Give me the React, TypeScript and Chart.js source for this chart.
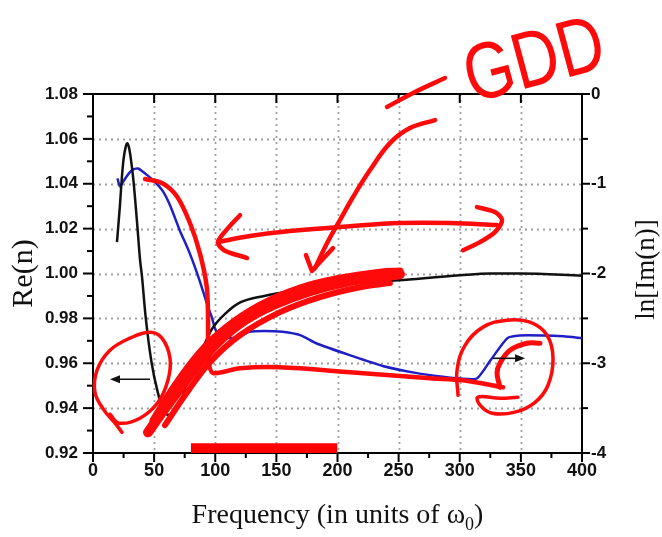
import { useEffect, useRef } from "react";
import { Chart, registerables } from "chart.js";

Chart.register(...registerables);

// Re(n) versus frequency (left axis)
const reFreq = [19.6, 22, 23.5, 25, 27, 28, 29.5, 31, 33, 36, 38.5, 40, 43, 48, 53, 57, 61, 65, 68, 72, 76, 80, 90, 97, 110, 120, 140, 175, 200, 250, 300, 325, 350, 400];
const reValues = [1.014, 1.03, 1.042, 1.051, 1.057, 1.058, 1.056, 1.051, 1.042, 1.023, 1.006, 0.999, 0.981, 0.96, 0.947, 0.94, 0.937, 0.937, 0.939, 0.943, 0.95, 0.956, 0.967, 0.975, 0.983, 0.987, 0.99, 0.993, 0.995, 0.997, 0.9992, 1.0, 1.0, 0.999];

// ln[Im(n)] versus frequency (right axis)
const imFreq = [20, 22, 25, 29, 33, 37, 43, 50, 57, 63, 71, 79, 87, 94, 97, 100, 104, 110, 118, 128, 140, 155, 170, 183, 210, 237, 265, 286, 300, 314, 325, 339, 349, 368, 385, 400];
const lnImValues = [-0.94, -1.03, -0.97, -0.89, -0.84, -0.83, -0.89, -0.97, -1.08, -1.24, -1.52, -1.77, -2.07, -2.37, -2.48, -2.62, -2.71, -2.72, -2.71, -2.65, -2.64, -2.65, -2.69, -2.78, -2.91, -3.03, -3.11, -3.15, -3.17, -3.17, -2.97, -2.72, -2.69, -2.69, -2.7, -2.72];

// Axis ranges and ticks
const xRange = [0, 400];
const xMajorStep = 50;
const xMinorStep = 25;
const reRange = [0.92, 1.08];
const reMajorStep = 0.02;
const reMinorStep = 0.01;
const lnImRange = [-4, 0];
const lnImMajorStep = 1;
const lnImMinorStep = 0.5;

// Highlighted frequency band on the axis
const bandFreq = [80, 200];
const bandTop = [0.9244, 0.9244];

// Black arrows telling which curve belongs to which axis
const leftArrowX = [46.6, 13.9];
const leftArrowY = [0.9529, 0.9529];
const rightArrowX = [327, 353.4];
const rightArrowY = [0.9622, 0.9622];

// Red ink: stroke following the Im curve, then along the bottom
const inkSlopeX = [42.5, 56.4, 68.7, 79.3, 87.4, 93.1, 94.1, 94.1, 94.6, 98.2, 120.2, 153.0, 210.2, 275.7, 302.7, 335.4];
const inkSlopeY = [1.0421, 1.0403, 1.0343, 1.0225, 1.0091, 0.9939, 0.9792, 0.968, 0.9605, 0.9556, 0.9578, 0.9582, 0.956, 0.9533, 0.9524, 0.9493];
// Red ink: hook inside the right circle
const inkHookX = [332.9, 330.5, 332.9, 341.1, 355.0, 365.6];
const inkHookY = [0.9493, 0.9556, 0.96, 0.9658, 0.9689, 0.9689];
// Red ink: right circle
const inkRightRingX = [298.6, 297.8, 304.3, 319.0, 338.7, 357.5, 371.4, 376.3, 372.2, 361.6, 345.2, 326.4, 316.6, 314.9, 332.9, 347.6];
const inkRightRingY = [0.9457, 0.9569, 0.968, 0.9761, 0.9792, 0.9783, 0.9725, 0.9622, 0.9502, 0.9426, 0.9382, 0.9377, 0.9413, 0.9449, 0.9444, 0.9449];
// Red ink: left circle
const inkLeftRingX = [13.9, 21.3, 38.4, 53.2, 61.3, 63.0, 56.4, 46.6, 30.3, 13.9, 3.3, 1.6, 9.0, 18.8, 23.7];
const inkLeftRingY = [0.9373, 0.9333, 0.9355, 0.9426, 0.9524, 0.9622, 0.9712, 0.9738, 0.9712, 0.9658, 0.9569, 0.9471, 0.9391, 0.9328, 0.9292];
// Red ink: thick marking over the Re curve
const inkBandAX = [45.0, 54.8, 71.2, 87.5, 103.9, 124.3, 148.9, 177.5, 210.2, 238.9, 251.1];
const inkBandAY = [0.9292, 0.9368, 0.9489, 0.9605, 0.9703, 0.9792, 0.9863, 0.9921, 0.9966, 0.9988, 0.9997];
const inkBandBX = [49.1, 67.1, 87.5, 108.0, 136.6, 169.3, 202.0, 234.8, 251.1];
const inkBandBY = [0.9346, 0.9502, 0.9649, 0.9756, 0.9859, 0.9935, 0.9979, 1.0006, 1.0011];
const inkBandCX = [58.9, 75.3, 95.7, 120.2, 153.0, 185.7, 218.4, 242.9];
const inkBandCY = [0.9324, 0.9457, 0.9605, 0.9725, 0.9828, 0.9895, 0.9939, 0.9957];
// Red ink: double-headed arrow spanning the band
const inkSpanX = [102.2, 128.4, 161.1, 210.2, 251.1, 292.0, 330.5];
const inkSpanY = [1.014, 1.0167, 1.0189, 1.0211, 1.0225, 1.0225, 1.0216];
const inkSpanLeftHeadX = [120.2, 110.4, 102.2, 107.2, 126.0];
const inkSpanLeftHeadY = [1.026, 1.0202, 1.014, 1.0104, 1.0069];
const inkSpanRightHeadX = [314.1, 328.8, 334.6, 328.8, 316.6, 302.7];
const inkSpanRightHeadY = [1.0296, 1.0274, 1.0238, 1.0184, 1.014, 1.0104];
// Red ink: arrow from the note down to the curve
const inkPointerX = [279.8, 259.3, 242.9, 226.6, 212.7, 202.0, 191.4, 181.6];
const inkPointerY = [1.0684, 1.0648, 1.0581, 1.0461, 1.0341, 1.0238, 1.0135, 1.0024];
const inkPointerHeadX = [174.2, 179.1, 185.7, 196.3];
const inkPointerHeadY = [1.0082, 1.0011, 1.0051, 1.0113];
// Red ink: dash before the note
const inkDashX = [240.5, 263.4, 287.9];
const inkDashY = [1.0742, 1.0809, 1.0871];

// Hand-written note
const noteText = "GDD";
const noteAnchor = [310, 1.076];

const xTitleMain = "Frequency (in units of \u03c9";
const xTitleSub = "0";
const xTitleEnd = ")";
const leftTitle = "Re(n)";
const rightTitle = "ln[Im(n)]";

const INK = "#ff0a0a";
const SANS = "'Liberation Sans', Arial, sans-serif";
const SERIF = "'Liberation Serif', 'Times New Roman', serif";

const pts = (xs: number[], ys: number[]) => xs.map((x, i) => ({ x, y: ys[i] }));

const range = (a: number, b: number, step: number) => {
  const out: number[] = [];
  for (let v = a; v <= b + step * 1e-6; v += step) out.push(Math.round(v * 1e6) / 1e6);
  return out;
};

const framePlugin = {
  id: "frame",
  beforeDatasetsDraw(chart: any) {
    const { ctx, chartArea: a, scales } = chart;
    const x = scales.x;
    const y = scales.y;
    const y2 = scales.y2;
    ctx.save();
    // dotted grid
    ctx.strokeStyle = "#a0a0a0";
    ctx.lineWidth = 1.8;
    ctx.setLineDash([2, 4]);
    range(xRange[0] + xMajorStep, xRange[1] - xMajorStep, xMajorStep).forEach((v) => {
      const px = Math.round(x.getPixelForValue(v)) + 0.5;
      ctx.beginPath();
      ctx.moveTo(px, a.top);
      ctx.lineTo(px, a.bottom);
      ctx.stroke();
    });
    range(reRange[0] + reMajorStep, reRange[1] - reMajorStep, reMajorStep).forEach((v) => {
      const py = Math.round(y.getPixelForValue(v)) + 0.5;
      ctx.beginPath();
      ctx.moveTo(a.left, py);
      ctx.lineTo(a.right, py);
      ctx.stroke();
    });
    ctx.setLineDash([]);
    // frame
    ctx.strokeStyle = "#000";
    ctx.lineWidth = 2;
    ctx.strokeRect(a.left, a.top, a.right - a.left, a.bottom - a.top);
    // ticks
    const tick = (x1: number, y1: number, x2: number, y2p: number) => {
      ctx.beginPath();
      ctx.moveTo(x1, y1);
      ctx.lineTo(x2, y2p);
      ctx.stroke();
    };
    ctx.lineWidth = 2;
    range(xRange[0], xRange[1], xMinorStep).forEach((v) => {
      const px = x.getPixelForValue(v);
      const major = Math.abs(v / xMajorStep - Math.round(v / xMajorStep)) < 1e-6;
      tick(px, a.bottom, px, a.bottom + (major ? 9 : 5));
      if (major && v > xRange[0] && v < xRange[1]) tick(px, a.top, px, a.top + 9);
    });
    range(reRange[0], reRange[1], reMinorStep).forEach((v) => {
      const py = y.getPixelForValue(v);
      const major = Math.abs(v / reMajorStep - Math.round(v / reMajorStep)) < 1e-6;
      tick(a.left, py, a.left - (major ? 10 : 6), py);
    });
    range(lnImRange[0], lnImRange[1], lnImMinorStep).forEach((v) => {
      const py = y2.getPixelForValue(v);
      const major = Math.abs(v / lnImMajorStep - Math.round(v / lnImMajorStep)) < 1e-6;
      tick(a.right, py, a.right + (major ? 8 : 6), py);
    });
    ctx.restore();
  },
  afterDatasetsDraw(chart: any) {
    const { ctx, scales } = chart;
    const x = scales.x;
    const y = scales.y;
    // black arrows
    const arrow = (xs: number[], ys: number[]) => {
      const x1 = x.getPixelForValue(xs[0]);
      const y1 = y.getPixelForValue(ys[0]);
      const x2 = x.getPixelForValue(xs[1]);
      const y2p = y.getPixelForValue(ys[1]);
      const ang = Math.atan2(y2p - y1, x2 - x1);
      ctx.save();
      ctx.strokeStyle = "#111";
      ctx.fillStyle = "#111";
      ctx.lineWidth = 1.6;
      ctx.beginPath();
      ctx.moveTo(x1, y1);
      ctx.lineTo(x2 - 6 * Math.cos(ang), y2p - 6 * Math.sin(ang));
      ctx.stroke();
      ctx.translate(x2, y2p);
      ctx.rotate(ang);
      ctx.beginPath();
      ctx.moveTo(0, 0);
      ctx.lineTo(-10, -4);
      ctx.lineTo(-10, 4);
      ctx.closePath();
      ctx.fill();
      ctx.restore();
    };
    arrow(leftArrowX, leftArrowY);
    arrow(rightArrowX, rightArrowY);
  },
  afterDraw(chart: any) {
    const { ctx, chartArea: a, scales } = chart;
    ctx.save();
    ctx.fillStyle = "#111";
    // x title with subscript
    const mainFont = `28px ${SERIF}`;
    const subFont = `18px ${SERIF}`;
    ctx.font = mainFont;
    const w1 = ctx.measureText(xTitleMain).width;
    const w3 = ctx.measureText(xTitleEnd).width;
    ctx.font = subFont;
    const w2 = ctx.measureText(xTitleSub).width;
    const total = w1 + w2 + w3;
    const cx = (a.left + a.right) / 2;
    let tx = cx - total / 2;
    const base = 523;
    ctx.textBaseline = "alphabetic";
    ctx.textAlign = "left";
    ctx.font = mainFont;
    ctx.fillText(xTitleMain, tx, base);
    tx += w1;
    ctx.font = subFont;
    ctx.fillText(xTitleSub, tx, base + 7);
    tx += w2;
    ctx.font = mainFont;
    ctx.fillText(xTitleEnd, tx, base);
    // y titles
    const mid = (a.top + a.bottom) / 2;
    ctx.textAlign = "center";
    ctx.textBaseline = "middle";
    ctx.font = `30px ${SERIF}`;
    ctx.save();
    ctx.translate(24, mid);
    ctx.rotate(-Math.PI / 2);
    ctx.fillText(leftTitle, 0, 0);
    ctx.restore();
    ctx.font = `27px ${SERIF}`;
    ctx.save();
    ctx.translate(647, mid - 4);
    ctx.rotate(-Math.PI / 2);
    ctx.fillText(rightTitle, 0, 0);
    ctx.restore();
    // hand-written note
    const nx = scales.x.getPixelForValue(noteAnchor[0]);
    const ny = scales.y.getPixelForValue(noteAnchor[1]);
    ctx.save();
    ctx.translate(nx, ny);
    ctx.rotate((-15 * Math.PI) / 180);
    ctx.scale(0.8, 1);
    ctx.fillStyle = INK;
    ctx.textAlign = "left";
    ctx.textBaseline = "alphabetic";
    ctx.font = `80px ${SANS}`;
    ctx.fillText(noteText, 0, 0);
    ctx.restore();
    ctx.restore();
  },
};

export default function App() {
  const ref = useRef<HTMLCanvasElement | null>(null);

  useEffect(() => {
    document.body.style.margin = "0";
    if (!ref.current) return;

    const ink = (xs: number[], ys: number[], width: number, tension = 0.4) => ({
      type: "line" as const,
      data: pts(xs, ys),
      borderColor: INK,
      borderWidth: width,
      borderCapStyle: "round" as const,
      borderJoinStyle: "round" as const,
      pointRadius: 0,
      tension,
      fill: false,
      clip: false as any,
      yAxisID: "y",
      order: 0,
    });

    const chart = new Chart(ref.current, {
      type: "line",
      data: {
        datasets: [
          ink(inkBandAX, inkBandAY, 10),
          ink(inkBandBX, inkBandBY, 7),
          ink(inkBandCX, inkBandCY, 6),
          ink(inkSlopeX, inkSlopeY, 4.5, 0.3),
          ink(inkHookX, inkHookY, 5),
          ink(inkRightRingX, inkRightRingY, 3.5),
          ink(inkLeftRingX, inkLeftRingY, 3.5),
          ink(inkSpanX, inkSpanY, 4.5),
          ink(inkSpanLeftHeadX, inkSpanLeftHeadY, 4.5, 0.3),
          ink(inkSpanRightHeadX, inkSpanRightHeadY, 4.5, 0.3),
          ink(inkPointerX, inkPointerY, 4.5),
          ink(inkPointerHeadX, inkPointerHeadY, 4.5, 0),
          ink(inkDashX, inkDashY, 4.5),
          {
            type: "line",
            data: pts(bandFreq, bandTop),
            borderWidth: 0,
            borderColor: "rgba(0,0,0,0)",
            backgroundColor: "#ff0000",
            fill: "start",
            pointRadius: 0,
            yAxisID: "y",
            order: 1,
          },
          {
            type: "line",
            data: pts(reFreq, reValues),
            borderColor: "#111111",
            borderWidth: 2.5,
            pointRadius: 0,
            cubicInterpolationMode: "monotone",
            fill: false,
            yAxisID: "y",
            order: 2,
          },
          {
            type: "line",
            data: pts(imFreq, lnImValues),
            borderColor: "#1f1fc4",
            borderWidth: 2.5,
            pointRadius: 0,
            tension: 0.2,
            fill: false,
            yAxisID: "y2",
            order: 2,
          },
        ] as any,
      },
      options: {
        animation: false,
        responsive: false,
        devicePixelRatio: 1,
        layout: { padding: { top: 94, left: 0, right: 0, bottom: 0 } },
        plugins: { legend: { display: false }, tooltip: { enabled: false } },
        events: [],
        scales: {
          x: {
            type: "linear",
            min: xRange[0],
            max: xRange[1],
            grid: { display: false, drawTicks: false, tickLength: 0 },
            border: { display: false },
            ticks: {
              stepSize: xMajorStep,
              padding: 7,
              color: "#111",
              font: { family: SANS, size: 18, weight: "bold" },
              maxRotation: 0,
            },
            afterFit: (s: any) => {
              s.height = 84;
            },
          },
          y: {
            type: "linear",
            position: "left",
            min: reRange[0],
            max: reRange[1],
            grid: { display: false, drawTicks: false, tickLength: 0 },
            border: { display: false },
            ticks: {
              stepSize: reMajorStep,
              padding: 15,
              color: "#111",
              font: { family: SANS, size: 17, weight: "bold" },
              callback: (v: any) => Number(v).toFixed(2),
            },
            afterFit: (s: any) => {
              s.width = 93;
            },
          },
          y2: {
            type: "linear",
            position: "right",
            min: lnImRange[0],
            max: lnImRange[1],
            grid: { display: false, drawTicks: false, tickLength: 0 },
            border: { display: false },
            ticks: {
              stepSize: lnImMajorStep,
              padding: 9,
              color: "#111",
              font: { family: SANS, size: 17, weight: "bold" },
              callback: (v: any) => String(Math.round(Number(v))),
            },
            afterFit: (s: any) => {
              s.width = 80;
            },
          },
        },
      } as any,
      plugins: [framePlugin],
    });

    return () => chart.destroy();
  }, []);

  return (
    <div style={{ width: 662, height: 537, background: "#fff" }}>
      <canvas ref={ref} width={662} height={537} style={{ display: "block" }} />
    </div>
  );
}
